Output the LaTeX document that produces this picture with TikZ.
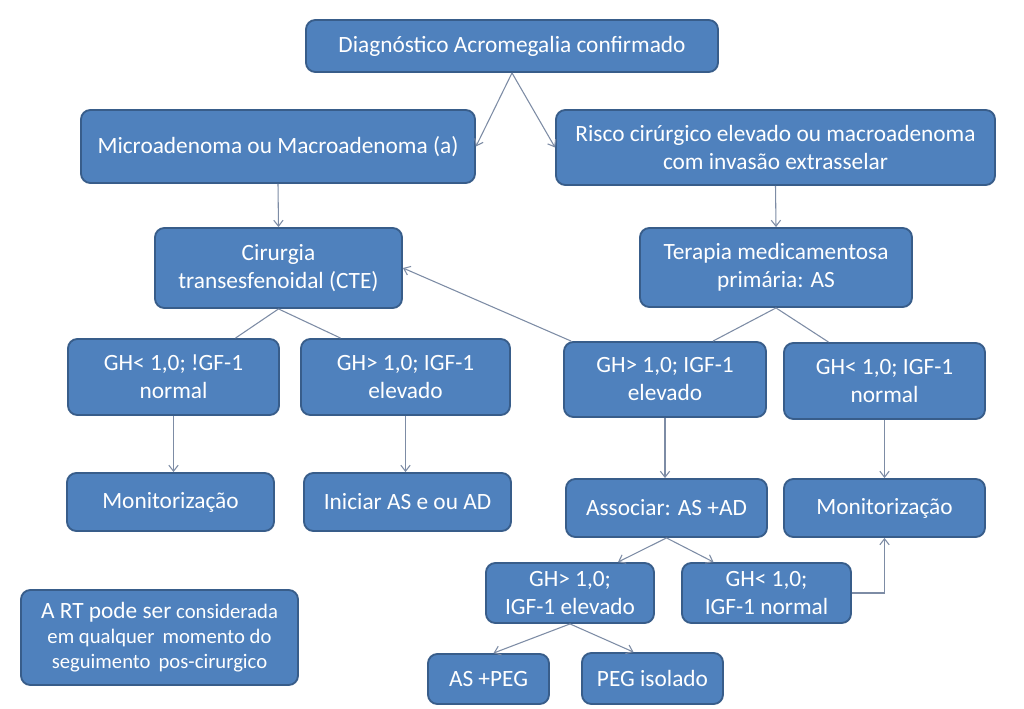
\documentclass[tikz,border=0pt]{standalone}
\usepackage{fontspec}
\setmainfont{Carlito}
\usetikzlibrary{arrows.meta,calc}
\definecolor{boxfill}{RGB}{79,129,189}
\definecolor{boxline}{RGB}{56,93,138}
\definecolor{conncol}{RGB}{125,140,165}
\tikzset{
 box/.style={rounded corners=7pt, fill=boxfill, draw=boxline, line width=1.4pt, text=white, align=center, inner sep=0pt, font=\fontsize{17.5}{21}\selectfont},
 conn/.style={draw=conncol, line width=0.8pt},
 arr/.style={conn, -{Straight Barb[length=4.5pt,width=7pt]}},
}
\newcommand\bx[6]{\node[box, minimum width={(#4-#2)*0.75pt}, minimum height={(#5-#3)*0.75pt}] (#1) at ({(#2+#4)/2},{(#3+#5)/2}) {#6};}
\begin{document}
\begin{tikzpicture}[x=0.75pt,y=-0.75pt]
\fill[white] (0,0) rectangle (1024,709);
\useasboundingbox (0,0) rectangle (1024,709);
\bx{diag}{306}{20}{718}{72}{Diagnóstico Acromegalia confirmado}
\bx{micro}{81}{110}{475}{183}{Microadenoma ou Macroadenoma (a)}
\bx{risco}{556}{110}{995}{185}{Risco cirúrgico elevado ou macroadenoma\\com invasão extrasselar}
\bx{cir}{155}{228}{402}{308}{Cirurgia\\transesfenoidal (CTE)}
\bx{ter}{640}{228}{912}{307}{Terapia medicamentosa\\primária: AS}
\bx{ghl1}{68}{339}{279}{415}{GH< 1,0; !GF-1\\normal}
\bx{ghl2}{301}{339}{510}{415}{GH> 1,0; IGF-1\\elevado}
\bx{ghr1}{564}{342}{766}{417}{GH> 1,0; IGF-1\\elevado}
\bx{ghr2}{784}{343}{985}{419}{GH< 1,0; IGF-1\\normal}
\bx{mon1}{67}{473}{274}{531}{Monitorização}
\bx{ini}{304}{473}{511}{531}{Iniciar AS e ou AD}
\bx{assoc}{566}{479}{767}{537}{Associar: AS +AD}
\bx{mon2}{784}{479}{985}{537}{Monitorização}
\bx{ghb1}{486}{563}{654}{623}{GH> 1,0;\\IGF-1 elevado}
\bx{ghb2}{682}{563}{851}{623}{GH< 1,0;\\IGF-1 normal}
\bx{asp}{428}{654}{549}{704}{AS +PEG}
\bx{peg}{582}{653}{723}{704}{PEG isolado}
\node[box, font=\fontsize{15.5}{18.75}\selectfont, minimum width={277*0.75pt}, minimum height={95*0.75pt}] (note) at (159.5,637.5)
 {{\fontsize{17.5}{18.75}\selectfont A RT pode ser} considerada\\em qualquer\, momento do\\seguimento\, pos-cirurgico};
\draw[arr] (diag.south) -- (micro.east);
\draw[arr] (diag.south) -- (risco.west);
\draw[arr] (micro.south) -- (cir.north);
\draw[arr] (risco.south) -- (ter.north);
\draw[conn] (cir.south) -- ($(ghl1.north)+(62,0)$);
\draw[conn] (cir.south) -- ($(ghl2.north)+(-65,0)$);
\draw[arr] ($(ghr1.north west)+(8,0)$) -- (cir.east);
\draw[conn] (ter.south) -- ($(ghr1.north)+(48,0)$);
\draw[conn] (ter.south) -- ($(ghr2.north)+(-56,0)$);
\draw[arr] (ghl1.south) -- (ghl1.south |- mon1.north);
\draw[arr] (ghl2.south) -- (ghl2.south |- ini.north);
\draw[arr] (ghr1.south) -- (ghr1.south |- assoc.north);
\draw[arr] (ghr2.south) -- (ghr2.south |- mon2.north);
\draw[arr] (assoc.south) -- ($(ghb1.north)+(48,0)$);
\draw[arr] (assoc.south) -- ($(ghb2.north)+(-53,0)$);
\draw[arr] (ghb2.east) -| (mon2.south);
\draw[arr] (ghb1.south) -- ($(asp.north)+(5,0)$);
\draw[arr] (ghb1.south) -- ($(peg.north)+(-19,0)$);
\end{tikzpicture}
\end{document}
